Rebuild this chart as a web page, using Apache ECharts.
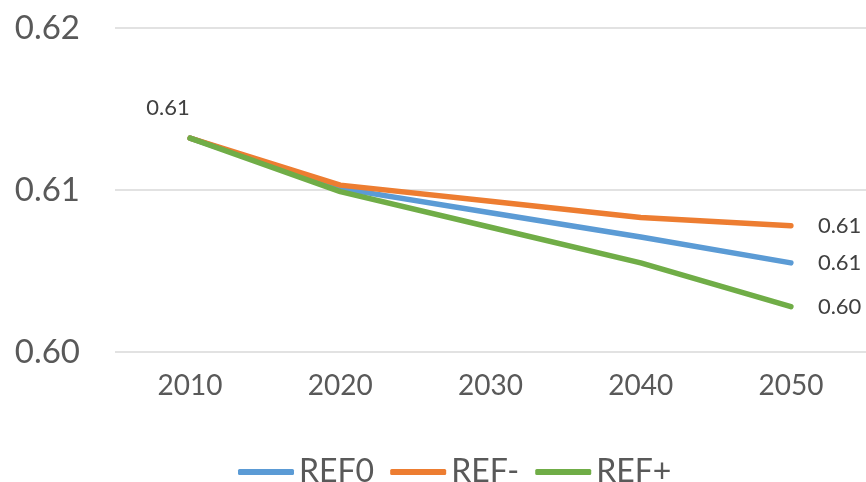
<!DOCTYPE html>
<html>
<head>
<meta charset="utf-8">
<script src="https://cdn.jsdelivr.net/npm/echarts@6/dist/echarts.min.js"></script>
<style>
  html, body { margin: 0; padding: 0; background: #ffffff; }
  #chart { width: 866px; height: 482px; }
</style>
</head>
<body>
<div id="chart"></div>
<script>
// Scenario trajectories by decade
const years = ['2010', '2020', '2030', '2040', '2050'];
const ref0 = [0.6132, 0.6101, 0.6086, 0.6071, 0.6055];
const refMinus = [0.6132, 0.6103, 0.6093, 0.6083, 0.6078];
const refPlus = [0.6132, 0.6099, 0.6077, 0.6055, 0.6028];
const yTicks = { min: 0.60, max: 0.62, step: 0.01 };

const FONT = 'Lato, "Open Sans", sans-serif';
const fmt = v => Number(v).toFixed(2);

// Label only the last point, plus (optionally) the first one
function pointsWithLabels(values, labelFirst) {
  return values.map((v, i) => {
    const item = { value: v };
    if (i === values.length - 1) {
      item.label = { show: true, position: 'right', distance: 27 };
    } else if (i === 0 && labelFirst) {
      item.label = { show: true, position: 'top', distance: 5, offset: [-22, -14] };
    }
    return item;
  });
}

function lineSeries(name, values, color, labelFirst) {
  return {
    name: name,
    type: 'line',
    data: pointsWithLabels(values, labelFirst),
    symbol: 'circle',
    symbolSize: 0,
    showSymbol: true,
    smooth: false,
    lineStyle: { width: 5.5, color: color, cap: 'round', join: 'round' },
    itemStyle: { color: color },
    label: {
      show: false,
      formatter: p => fmt(p.value),
      color: '#404040',
      fontFamily: FONT,
      fontSize: 22
    },
    emphasis: { disabled: true }
  };
}

const chart = echarts.init(document.getElementById('chart'), null, { renderer: 'canvas' });
chart.setOption({
  animation: false,
  backgroundColor: '#ffffff',
  grid: { left: 115, top: 28, width: 755, height: 324 },
  legend: {
    data: ['REF0', 'REF-', 'REF+'],
    left: 238,
    top: 456,
    padding: 0,
    icon: 'roundRect',
    itemWidth: 56,
    itemHeight: 6,
    itemGap: 16,
    textStyle: { color: '#595959', fontFamily: FONT, fontSize: 32 }
  },
  xAxis: {
    type: 'category',
    data: years,
    boundaryGap: true,
    axisLine: { show: false },
    axisTick: { show: false },
    axisLabel: { color: '#595959', fontFamily: FONT, fontSize: 28, margin: 20 }
  },
  yAxis: {
    type: 'value',
    min: yTicks.min,
    max: yTicks.max,
    interval: yTicks.step,
    axisLine: { show: false },
    axisTick: { show: false },
    splitLine: { lineStyle: { color: '#d9d9d9', width: 1.5 } },
    axisLabel: { color: '#595959', fontFamily: FONT, fontSize: 33, margin: 35, formatter: v => fmt(v) }
  },
  series: [
    lineSeries('REF0', ref0, '#5B9BD5', false),
    lineSeries('REF-', refMinus, '#ED7D31', false),
    lineSeries('REF+', refPlus, '#70AD47', true)
  ]
});
</script>
</body>
</html>
